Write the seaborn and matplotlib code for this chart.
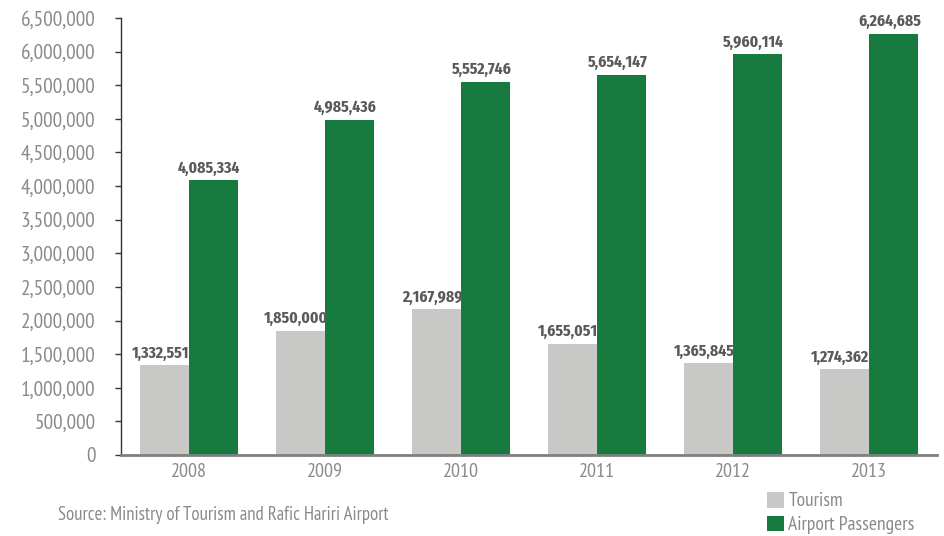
import matplotlib
matplotlib.use("Agg")
import matplotlib.pyplot as plt
from matplotlib.patches import Patch
from matplotlib.ticker import FuncFormatter
import numpy as np
import pandas as pd
import seaborn as sns

years = ["2008", "2009", "2010", "2011", "2012", "2013"]
tourism = [1332551, 1850000, 2167989, 1655051, 1365845, 1274362]
airport = [4085334, 4985436, 5552746, 5654147, 5960114, 6264685]
series_names = ["Tourism", "Airport Passengers"]
source_note = "Source: Ministry of Tourism and Rafic Hariri Airport"

GRAY = "#c8c8c6"
GREEN = "#177b3f"
TICK_COLOR = "#8a8a8a"
LABEL_COLOR = "#5a5a5a"

sns.set_theme(style="white")
plt.rcParams["font.family"] = ["PT Sans Narrow", "Open Sans Condensed", "DejaVu Sans"]
LABEL_FONT = ["Fira Sans Extra Condensed", "PT Sans Narrow", "DejaVu Sans"]

df = pd.DataFrame({
    "year": years * 2,
    "value": tourism + airport,
    "series": [series_names[0]] * len(years) + [series_names[1]] * len(years),
})

fig = plt.figure(figsize=(9.44, 5.36), dpi=100)
ax = fig.add_axes([121 / 944, 1 - 455 / 536, (937 - 121) / 944, (455 - 18) / 536])

sns.barplot(data=df, x="year", y="value", hue="series", order=years,
            hue_order=series_names, palette=[GRAY, GREEN], width=0.72,
            saturation=1, linewidth=0, legend=False, ax=ax)

# value labels sit above every bar, nudged slightly left
for container in ax.containers:
    for bar in container:
        h = bar.get_height()
        ax.annotate(f"{h:,.0f}", (bar.get_x() + bar.get_width() / 2, h),
                    xytext=(-3, 3), textcoords="offset points", ha="center",
                    va="bottom", fontsize=12.2, fontweight="bold", color=LABEL_COLOR,
                    family=LABEL_FONT, zorder=10)

ax.set_xlim(-0.5, len(years) - 0.5)
ax.set_ylim(0, 6500000)
ax.set_yticks(np.arange(0, 6500001, 500000))
ax.yaxis.set_major_formatter(FuncFormatter(lambda v, p: f"{v:,.0f}"))
ax.set_xlabel("")
ax.set_ylabel("")

ax.set_xticks(np.arange(-0.5, len(years), 1.0), minor=True)
ax.tick_params(axis="x", which="major", length=0, pad=6, labelsize=14.5, labelcolor=TICK_COLOR)
ax.tick_params(axis="x", which="minor", length=4, width=1, color="#333333", direction="out")
ax.tick_params(axis="y", which="major", length=4.5, width=1, color="#333333", direction="out",
               left=True, pad=14, labelsize=15.3, labelcolor=TICK_COLOR)

for side in ["top", "right"]:
    ax.spines[side].set_visible(False)
ax.spines["left"].set_color("#333333")
ax.spines["left"].set_linewidth(1)
ax.spines["bottom"].set_color("#7f7f7f")
ax.spines["bottom"].set_linewidth(2)

fig.text(58 / 944, 1 - 515 / 536, source_note, fontsize=13.5, color=TICK_COLOR,
         ha="left", va="center")

handles = [Patch(facecolor=GRAY, edgecolor="none"), Patch(facecolor=GREEN, edgecolor="none")]
fig.legend(handles, series_names, loc="upper left", bbox_to_anchor=(767 / 944, 1 - 492 / 536),
           frameon=False, fontsize=14, labelcolor=TICK_COLOR, handlelength=0.85,
           handleheight=0.85, handletextpad=0.25, labelspacing=0.27, borderpad=0,
           borderaxespad=0)

fig.savefig("out.png", dpi=100)
